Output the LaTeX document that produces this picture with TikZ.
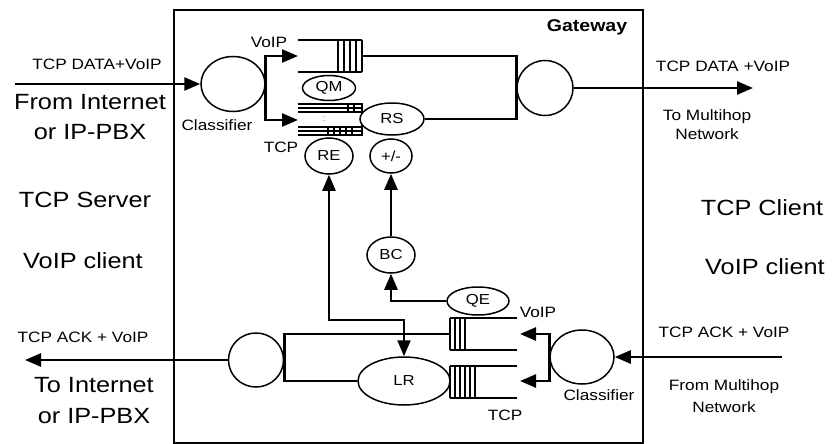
\documentclass[tikz,border=0pt]{standalone}
\usepackage{fontspec}
\setmainfont{Liberation Sans}[FakeStretch=1.15]
\usetikzlibrary{arrows.meta,shapes.geometric}
\tikzset{
 gw flow/.style={-{Triangle[length=16pt,width=13pt]},line width=2.6pt},
 gw both/.style={{Triangle[length=16pt,width=13pt]}-{Triangle[length=16pt,width=13pt]},line width=2.3pt},
 gw link/.style={line width=2.6pt},
 gw line/.style={line width=1.3pt},
 gw oval/.style={ellipse,draw,line width=1.5pt,fill=white,inner sep=0pt,
   font=\fontsize{14.5}{16}\selectfont},
 gw small/.style={font=\fontsize{15}{18}\selectfont,align=center,inner sep=0pt},
 gw big/.style={font=\fontsize{22}{30}\selectfont,align=center,inner sep=0pt},
 pics/gw queue/.style n args={3}{code={
   \draw[gw line] (0,-16)--(-#1,-16) (0,16)--(-#1,16) (0,-16)--(0,16);
   \foreach \k in {1,...,#2} \draw[gw line] (-\k*#3,-16)--(-\k*#3,16);
 }}
}
\begin{document}
\begin{tikzpicture}[x=1pt,y=-1pt]
\useasboundingbox (0,0) rectangle (832,444);
\draw[line width=1.6pt] (174,10) rectangle (643,443);
\node[font=\fontsize{17}{20}\selectfont\bfseries,inner sep=0pt] (gwlabel) at (587,27) {Gateway};
\pic at (362,56) {gw queue={64}{4}{6}};
\draw[gw line] (298,104)--(362,104)--(362,135)--(298,135)
  (298,108)--(362,108) (298,112)--(362,112)
  (298,127)--(362,127) (298,131)--(362,131);
\foreach \x in {348,354} \draw[gw line] (\x,104)--(\x,112);
\foreach \x in {328,334,...,352} \draw[gw line] (\x,127)--(\x,135);
\node[font=\fontsize{9}{9}\selectfont,text=gray,inner sep=0pt] (tcpdots) at (324,119) {:};
\pic[xscale=-1] at (450,334) {gw queue={67}{3}{5}};
\pic[xscale=-1] at (450,382) {gw queue={67}{5}{5}};
\node[gw oval,minimum width=64pt,minimum height=55pt] (clsin) at (233,84) {};
\node[gw oval,minimum width=56pt,minimum height=55pt] (outc) at (545,88) {};
\node[gw oval,minimum width=53pt,minimum height=25pt] (qm) at (329,88) {QM};
\node[gw oval,minimum width=64pt,minimum height=32pt] (rs) at (392,119) {RS};
\node[gw oval,minimum width=48pt,minimum height=36pt] (re) at (329,156) {RE};
\node[gw oval,minimum width=42pt,minimum height=34pt] (pm) at (391,156) {+/-};
\node[gw oval,minimum width=48pt,minimum height=36pt] (bc) at (391,255) {BC};
\node[gw oval,minimum width=62pt,minimum height=28pt] (qe) at (478,301) {QE};
\node[gw oval,minimum width=92pt,minimum height=48pt] (lr) at (404,381) {LR};
\node[gw oval,minimum width=55pt,minimum height=54pt] (outb) at (256,360) {};
\node[gw oval,minimum width=64pt,minimum height=54pt] (clsout) at (582,357) {};
\node[gw small] (datalabel) at (97,64) {TCP DATA+VoIP};
\node[gw big] (srcnet) at (90,117) {From Internet\\or IP-PBX};
\node[gw small] (clsinlabel) at (217,125) {Classifier};
\node[gw small] (voiplabel) at (269,42) {VoIP};
\node[gw small] (tcplabel) at (281,147) {TCP};
\node[gw small] (datalabelr) at (723,66) {TCP DATA +VoIP};
\node[gw small,font=\fontsize{15}{19}\selectfont] (dstnet) at (707,125) {To Multihop\\Network};
\node[gw big] (srvlabel) at (85,200) {TCP Server};
\node[gw big] (voipclil) at (83,261) {VoIP client};
\node[gw big] (clilabel) at (762,208) {TCP Client};
\node[gw big] (voipclir) at (765,267) {VoIP client};
\node[gw small] (acklabel) at (83,337) {TCP ACK + VoIP};
\node[gw big,font=\fontsize{22}{31}\selectfont] (dstint) at (94,401) {To Internet\\or IP-PBX};
\node[gw small] (acklabelr) at (724,332) {TCP ACK + VoIP};
\node[gw small,font=\fontsize{15}{22}\selectfont] (srcmh) at (724,396) {From Multihop\\Network};
\node[gw small] (voiplabelb) at (538,312) {VoIP};
\node[gw small] (tcplabelb) at (505,415) {TCP};
\node[gw small] (clsoutlabel) at (599,395) {Classifier};
\coordinate (srcin) at (15,84);
\coordinate (voipq in) at (298,56);
\coordinate (voipq out) at (362,56);
\coordinate (tcpq in) at (298,120);
\coordinate (dstout) at (753,88);
\coordinate (feedback) at (404,320);
\coordinate (mhin) at (782,357);
\coordinate (voipb in) at (520,334);
\coordinate (tcpb in) at (520,381);
\coordinate (voipb out) at (450,334);
\coordinate (dstback) at (25,360);
\draw[gw flow] (srcin)--(clsin);
\draw[gw flow] (clsin.east) |- (voipq in);
\draw[gw flow] (clsin.east) |- (tcpq in);
\draw[gw link] (voipq out) -| (outc.west);
\draw[gw link] (rs.east) -| (outc.west);
\draw[gw flow] (outc)--(dstout);
\draw[gw both] (re.south) |- (feedback)--(lr.north);
\draw[gw flow] (qe.west) -| (bc.south);
\draw[gw flow] (bc)--(pm);
\draw[gw flow] (mhin)--(clsout);
\draw[gw flow] (clsout.west) |- (voipb in);
\draw[gw flow] (clsout.west) |- (tcpb in);
\draw[gw link] (voipb out) -| (outb.east);
\draw[gw link] (lr.west) -| (outb.east);
\draw[gw flow] (outb)--(dstback);
\end{tikzpicture}
\end{document}
